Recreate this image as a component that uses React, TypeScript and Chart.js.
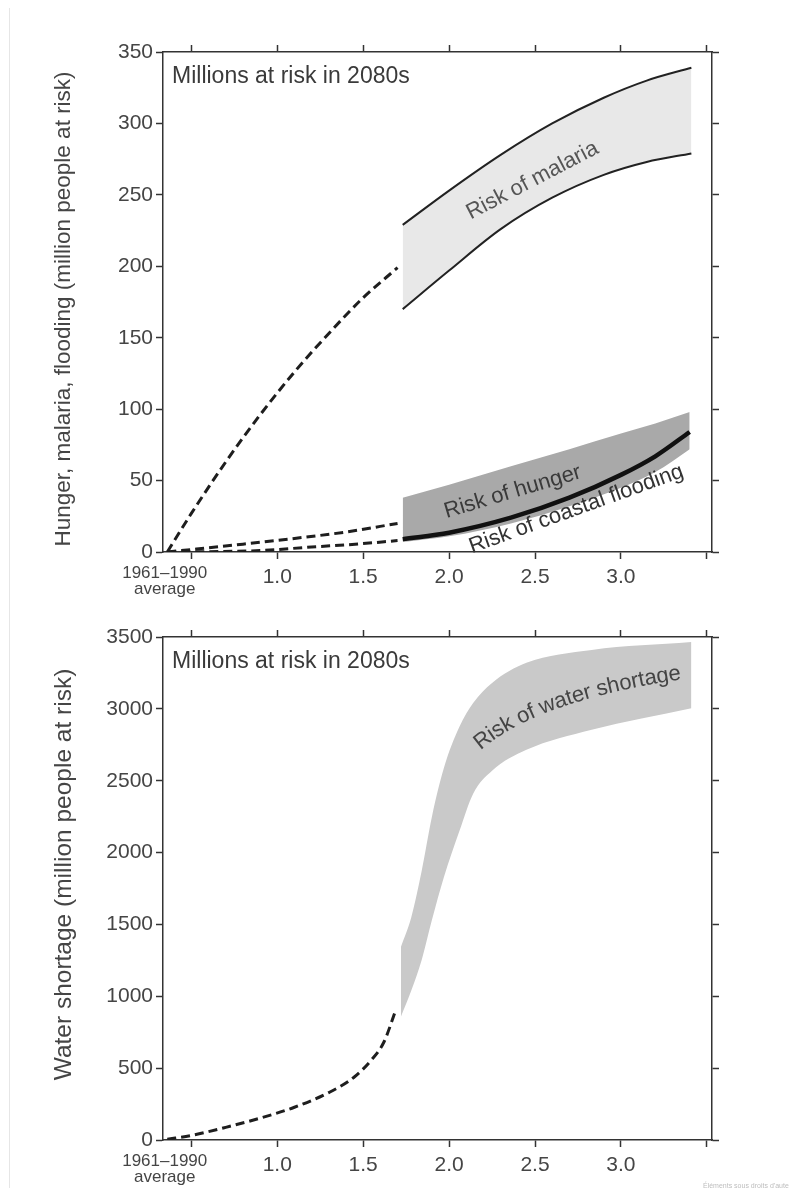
import React, { useEffect, useRef } from "react";
import { Chart, registerables } from "chart.js";

Chart.register(...registerables);

const FONT = '"Liberation Sans", Arial, Helvetica, sans-serif';
const TEXT = "#454545";
const AXIS = "#333333";

// ---- x axis (global temperature rise) ----
const X_MIN = 0.335;
const X_MAX = 3.53;
const xTickValues = [0.345, 0.5, 1.0, 1.5, 2.0, 2.5, 3.0, 3.5];
const xTickLabels: (string | string[])[] = [["1961–1990", "average"], "", "1.0", "1.5", "2.0", "2.5", "3.0", ""];
const xTopTickValues = [0.5, 1.0, 1.5, 2.0, 2.5, 3.0, 3.5];

// ---- top panel ----
const topYMax = 350;
const topYStep = 50;
const topYTitle = "Hunger, malaria, flooding (million people at risk)";
const cornerText = "Millions at risk in 2080s";

const malariaDashX = [0.36, 0.5, 0.7, 0.9, 1.1, 1.3, 1.5, 1.7];
const malariaDashY = [0, 27, 63, 96, 126, 153, 178, 199];
const hungerDashX = [0.36, 0.8, 1.1, 1.4, 1.7];
const hungerDashY = [0, 5.5, 9.5, 14, 20];
const floodDashX = [0.36, 0.9, 1.2, 1.47, 1.7];
const floodDashY = [0, 1, 3.5, 5.6, 8];

const malariaX = [1.73, 2.0, 2.3, 2.6, 2.9, 3.15, 3.41];
const malariaHigh = [229, 253, 278, 300, 318, 330, 339];
const malariaLow = [170, 197, 226, 248, 264, 273, 279];

const hungerX = [1.73, 2.0, 2.36, 2.7, 3.0, 3.2, 3.4];
const hungerHigh = [38, 47, 60, 72, 83, 90, 98];
const hungerLow = [7, 11, 20, 32, 45, 56, 72];
const floodLine = [9, 13.5, 24, 38, 54, 67, 84];

const topLabels = ["Risk of malaria", "Risk of hunger", "Risk of coastal flooding"];
const topLabelX = [2.485, 2.37, 2.74];
const topLabelY = [260, 42, 30];
const topLabelAngle = [-27.5, -16.6, -19.8];
const topLabelColor = ["#555555", "#3a3a3a", "#333333"];

// ---- bottom panel ----
const bottomYMax = 3500;
const bottomYStep = 500;
const bottomYTitle = "Water shortage (million people at risk)";

const waterDashX = [0.36, 0.5, 0.7, 0.9, 1.1, 1.3, 1.45, 1.55, 1.62, 1.69];
const waterDashY = [5, 32, 88, 152, 228, 330, 440, 560, 680, 905];

const waterX = [1.72, 1.78, 1.84, 1.9, 1.97, 2.06, 2.14, 2.25, 2.45, 2.83, 3.41];
const waterHigh = [1345, 1550, 1870, 2250, 2590, 2875, 3040, 3180, 3320, 3410, 3465];
const waterLow = [860, 1040, 1250, 1530, 1830, 2150, 2410, 2570, 2715, 2855, 3005];

const waterLabel = "Risk of water shortage";
const waterLabelCurveX = [2.122, 2.454, 3.402];
const waterLabelCurveY = [2700, 3097, 3257];

const watermark = "Éléments sous droits d'auteur";

const pts = (xs: number[], ys: number[]) => xs.map((x, i) => ({ x, y: ys[i] }));

function drawTextOnCurve(ctx: CanvasRenderingContext2D, text: string, p: { x: number; y: number }[]) {
  const N = 300;
  const path: { x: number; y: number }[] = [];
  const len: number[] = [];
  for (let i = 0; i <= N; i++) {
    const t = i / N;
    const x = (1 - t) * (1 - t) * p[0].x + 2 * (1 - t) * t * p[1].x + t * t * p[2].x;
    const y = (1 - t) * (1 - t) * p[0].y + 2 * (1 - t) * t * p[1].y + t * t * p[2].y;
    path.push({ x, y });
    len.push(i === 0 ? 0 : len[i - 1] + Math.hypot(x - path[i - 1].x, y - path[i - 1].y));
  }
  const total = len[N];
  const tw = ctx.measureText(text).width;
  let s = (total - tw) / 2;
  for (const ch of text) {
    const w = ctx.measureText(ch).width;
    const sc = s + w / 2;
    let k = 0;
    while (k < N - 1 && len[k + 1] < sc) k++;
    const a = path[k];
    const b = path[k + 1];
    const f = (sc - len[k]) / (len[k + 1] - len[k] || 1);
    const x = a.x + (b.x - a.x) * f;
    const y = a.y + (b.y - a.y) * f;
    const ang = Math.atan2(b.y - a.y, b.x - a.x);
    ctx.save();
    ctx.translate(x, y);
    ctx.rotate(ang);
    ctx.textAlign = "center";
    ctx.textBaseline = "middle";
    ctx.fillText(ch, 0, 0);
    ctx.restore();
    s += w;
  }
}

function annotPlugin(o: {
  yTitle: string;
  yTitleSize: number;
  yTitleShift: number;
  texts?: string[];
  xs?: number[];
  ys?: number[];
  angles?: number[];
  colors?: string[];
  curveText?: string;
  curveX?: number[];
  curveY?: number[];
}) {
  return {
    id: "annot",
    afterDatasetsDraw(chart: any) {
      const { ctx, chartArea, scales } = chart;
      ctx.save();
      // corner caption
      ctx.fillStyle = "#3a3a3a";
      ctx.font = `23px ${FONT}`;
      ctx.textAlign = "left";
      ctx.textBaseline = "middle";
      ctx.fillText(cornerText, chartArea.left + 9, chartArea.top + 25);
      // y axis title
      ctx.save();
      ctx.translate(64, (chartArea.top + chartArea.bottom) / 2 + o.yTitleShift);
      ctx.rotate(-Math.PI / 2);
      ctx.font = `${o.yTitleSize}px ${FONT}`;
      ctx.fillStyle = TEXT;
      ctx.textAlign = "center";
      ctx.textBaseline = "middle";
      ctx.fillText(o.yTitle, 0, 0);
      ctx.restore();
      // band labels
      (o.texts || []).forEach((t, i) => {
        const px = scales.x.getPixelForValue(o.xs![i]);
        const py = scales.y.getPixelForValue(o.ys![i]);
        ctx.save();
        ctx.translate(px, py);
        ctx.rotate((o.angles![i] * Math.PI) / 180);
        ctx.font = `22px ${FONT}`;
        ctx.fillStyle = o.colors![i];
        ctx.textAlign = "center";
        ctx.textBaseline = "middle";
        ctx.fillText(t, 0, 0);
        ctx.restore();
      });
      if (o.curveText) {
        const cp = o.curveX!.map((x, i) => ({
          x: scales.x.getPixelForValue(x),
          y: scales.y.getPixelForValue(o.curveY![i]),
        }));
        ctx.font = `22px ${FONT}`;
        ctx.fillStyle = "#444444";
        drawTextOnCurve(ctx, o.curveText, cp);
      }
      ctx.restore();
    },
  };
}

function buildScales(o: { yMax: number; yStep: number; topH: number; bottomH: number; leftW: number; rightW: number }) {
  const tickFont = { family: FONT, size: 21 };
  const grid = { drawOnChartArea: false, drawTicks: true, tickLength: 7, tickWidth: 1.5, tickColor: AXIS };
  const border = { display: true, color: AXIS, width: 1.5 };
  return {
    x: {
      type: "linear",
      position: "bottom",
      min: X_MIN,
      max: X_MAX,
      afterBuildTicks: (s: any) => {
        s.ticks = xTickValues.map((v) => ({ value: v }));
      },
      afterFit: (s: any) => {
        s.height = o.bottomH;
      },
      ticks: {
        autoSkip: false,
        maxRotation: 0,
        minRotation: 0,
        padding: 6,
        color: TEXT,
        font: (c: any) => (c.index === 0 ? { family: FONT, size: 17, lineHeight: 0.95 } : tickFont),
        callback: (_v: any, i: number) => xTickLabels[i],
      },
      grid: { ...grid, tickColor: (c: any) => (c.index === 0 ? "rgba(0,0,0,0)" : AXIS) },
      border,
    },
    x2: {
      type: "linear",
      position: "top",
      min: X_MIN,
      max: X_MAX,
      afterBuildTicks: (s: any) => {
        s.ticks = xTopTickValues.map((v) => ({ value: v }));
      },
      afterFit: (s: any) => {
        s.height = o.topH;
      },
      ticks: { autoSkip: false, maxRotation: 0, callback: () => "", font: tickFont },
      grid,
      border,
    },
    y: {
      type: "linear",
      position: "left",
      min: 0,
      max: o.yMax,
      afterFit: (s: any) => {
        s.width = o.leftW;
      },
      ticks: {
        stepSize: o.yStep,
        padding: 3,
        color: TEXT,
        font: tickFont,
        autoSkip: false,
        callback: (v: any) => String(v),
      },
      grid,
      border,
    },
    y2: {
      type: "linear",
      position: "right",
      min: 0,
      max: o.yMax,
      afterFit: (s: any) => {
        s.width = o.rightW;
      },
      ticks: { stepSize: o.yStep, callback: () => "", font: tickFont, autoSkip: false },
      grid,
      border,
    },
  };
}

const commonOptions = {
  responsive: false,
  animation: false,
  devicePixelRatio: 1,
  layout: { padding: 0 },
  plugins: {
    legend: { display: false },
    tooltip: { enabled: false },
    filler: { drawTime: "beforeDatasetsDraw" },
  },
  elements: { point: { radius: 0 } },
};

const dashed = (data: any[]) => ({
  data,
  borderColor: "#1e1e1e",
  borderWidth: 3,
  borderDash: [9, 5],
  fill: false,
  cubicInterpolationMode: "monotone",
  pointRadius: 0,
});

function topConfig(): any {
  return {
    type: "line",
    data: {
      datasets: [
        { data: pts(hungerX, floodLine), borderColor: "#111", borderWidth: 4.5, fill: false, cubicInterpolationMode: "monotone" },
        { data: pts(malariaX, malariaHigh), borderColor: "#222", borderWidth: 2, fill: "+1", backgroundColor: "#e8e8e8", cubicInterpolationMode: "monotone" },
        { data: pts(malariaX, malariaLow), borderColor: "#222", borderWidth: 2, fill: false, cubicInterpolationMode: "monotone" },
        { data: pts(hungerX, hungerHigh), borderColor: "rgba(0,0,0,0)", borderWidth: 0, fill: "+1", backgroundColor: "#a9a9a9", cubicInterpolationMode: "monotone" },
        { data: pts(hungerX, hungerLow), borderColor: "rgba(0,0,0,0)", borderWidth: 0, fill: false, cubicInterpolationMode: "monotone" },
        dashed(pts(malariaDashX, malariaDashY)),
        dashed(pts(hungerDashX, hungerDashY)),
        dashed(pts(floodDashX, floodDashY)),
      ],
    },
    options: {
      ...commonOptions,
      scales: buildScales({ yMax: topYMax, yStep: topYStep, topH: 52, bottomH: 63, leftW: 163, rightW: 77 }),
    },
    plugins: [
      annotPlugin({
        yTitle: topYTitle,
        yTitleSize: 22.5,
        yTitleShift: 7,
        texts: topLabels,
        xs: topLabelX,
        ys: topLabelY,
        angles: topLabelAngle,
        colors: topLabelColor,
      }),
    ],
  };
}

function bottomConfig(): any {
  return {
    type: "line",
    data: {
      datasets: [
        dashed(pts(waterDashX, waterDashY)),
        { data: pts(waterX, waterHigh), borderColor: "rgba(0,0,0,0)", borderWidth: 0, fill: "+1", backgroundColor: "#c9c9c9", cubicInterpolationMode: "monotone" },
        { data: pts(waterX, waterLow), borderColor: "rgba(0,0,0,0)", borderWidth: 0, fill: false, cubicInterpolationMode: "monotone" },
      ],
    },
    options: {
      ...commonOptions,
      scales: buildScales({ yMax: bottomYMax, yStep: bottomYStep, topH: 22, bottomH: 53, leftW: 163, rightW: 77 }),
    },
    plugins: [
      annotPlugin({
        yTitle: bottomYTitle,
        yTitleSize: 24.5,
        yTitleShift: -14,
        curveText: waterLabel,
        curveX: waterLabelCurveX,
        curveY: waterLabelCurveY,
      }),
    ],
  };
}

function ChartCanvas({ make, top, height }: { make: () => any; top: number; height: number }) {
  const ref = useRef<HTMLCanvasElement>(null);
  useEffect(() => {
    const chart = new Chart(ref.current as HTMLCanvasElement, make());
    return () => chart.destroy();
  }, []);
  return (
    <canvas
      ref={ref}
      width={789}
      height={height}
      style={{ position: "absolute", left: 0, top, width: 789, height, display: "block" }}
    />
  );
}

export default function App() {
  return (
    <div style={{ position: "absolute", left: 0, top: 0, width: 789, height: 1193, overflow: "hidden", background: "#fff" }}>
      <div style={{ position: "absolute", left: 9, top: 8, width: 0, height: 1180, borderLeft: "1px solid #e6e6e6" }} />
      <ChartCanvas make={topConfig} top={0} height={615} />
      <ChartCanvas make={bottomConfig} top={615} height={578} />
      <div
        style={{
          position: "absolute",
          left: 703,
          top: 1182,
          fontFamily: FONT,
          fontSize: 7,
          color: "#bdbdbd",
          whiteSpace: "nowrap",
        }}
      >
        {watermark}
      </div>
    </div>
  );
}
